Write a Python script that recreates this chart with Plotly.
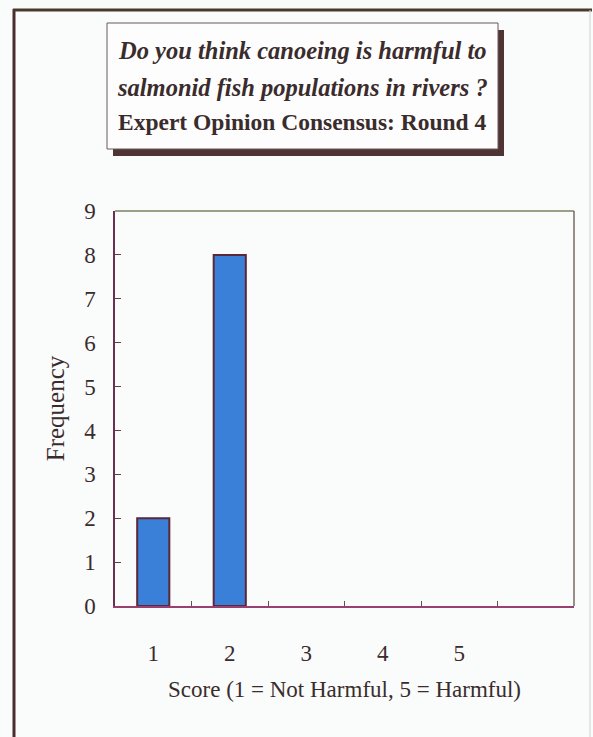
import plotly.graph_objects as go

scores = [1, 2, 3, 4, 5, 6]
frequency = [2, 8, 0, 0, 0, 0]
tick_vals = [1, 2, 3, 4, 5]
tick_text = ["1", "2", "3", "4", "5"]
boundary_ticks = [1.5, 2.5, 3.5, 4.5, 5.5]
y_ticks = [0, 1, 2, 3, 4, 5, 6, 7, 8, 9]
title_lines = [
    "<b><i>Do you think canoeing is harmful to</i></b>",
    "<b><i>salmonid fish populations in rivers ?</i></b>",
    "<b>Expert Opinion Consensus: Round 4</b>",
]

W, H = 593, 737
L, R, T, B = 115, 19, 211, 131
pw, ph = W - L - R, H - T - B


def px(x):
    return (x - L) / pw


def py(y):
    return (H - B - y) / ph


FONT = "Liberation Serif"
TXT = "#3a2c2c"

fig = go.Figure()
fig.add_trace(go.Bar(
    x=scores, y=frequency, width=0.42,
    marker=dict(color="#3a80d8",
                line=dict(color="#5a2838", width=[2 if v > 0 else 0 for v in frequency])),
))

shapes = []
# outer frame
shapes.append(dict(type="line", xref="paper", yref="paper", x0=px(14), x1=px(14), y0=py(9), y1=py(745),
                   line=dict(color="#4a2e2e", width=3)))
shapes.append(dict(type="line", xref="paper", yref="paper", x0=px(13), x1=px(592), y0=py(10), y1=py(10),
                   line=dict(color="#4a3a2e", width=3)))
shapes.append(dict(type="line", xref="paper", yref="paper", x0=px(590), x1=px(590), y0=py(10), y1=py(745),
                   line=dict(color="#d0d0d0", width=1)))
# title box shadow and box
shapes.append(dict(type="rect", xref="paper", yref="paper", x0=px(113), x1=px(504), y0=py(30), y1=py(156),
                   fillcolor="#4e3434", line=dict(width=0)))
shapes.append(dict(type="rect", xref="paper", yref="paper", x0=px(107), x1=px(498), y0=py(23), y1=py(149),
                   fillcolor="#fdfdfd", line=dict(color="#6a5a5a", width=1)))
# plot frame top / right
shapes.append(dict(type="line", xref="paper", yref="paper", x0=0, x1=1, y0=1, y1=1,
                   line=dict(color="#7d8060", width=1.5)))
shapes.append(dict(type="line", xref="paper", yref="paper", x0=1, x1=1, y0=0, y1=1,
                   line=dict(color="#7a6a66", width=1.5)))

annotations = []
for txt, yc, fs in zip(title_lines, [50, 87, 122], [24.5, 24.5, 23.5]):
    annotations.append(dict(text=txt, xref="paper", yref="paper", x=px(302.5), y=py(yc),
                            showarrow=False, xanchor="center", yanchor="middle",
                            font=dict(family=FONT, size=fs, color=TXT)))

fig.update_layout(
    width=W, height=H,
    margin=dict(l=L, r=R, t=T, b=B, pad=0),
    paper_bgcolor="#fafbfb", plot_bgcolor="#fafbfb",
    showlegend=False,
    shapes=shapes, annotations=annotations,
    font=dict(family=FONT, color=TXT, size=22),
    xaxis=dict(
        range=[0.5, 6.5], tickmode="array", tickvals=tick_vals, ticktext=tick_text,
        ticks="", showgrid=False, zeroline=False,
        showline=True, linecolor="#9a4070", linewidth=1.5,
        ticklabelstandoff=26,
        tickfont=dict(family=FONT, size=23, color=TXT),
        minor=dict(tickmode="array", tickvals=boundary_ticks, ticks="inside",
                   ticklen=5, tickcolor="#6a4a5a", tickwidth=1, showgrid=False),
        title=dict(text="Score (1 = Not Harmful, 5 = Harmful)", standoff=16,
                   font=dict(family=FONT, size=23, color=TXT)),
    ),
    yaxis=dict(
        range=[0, 9], tickmode="array", tickvals=y_ticks,
        ticks="inside", ticklen=6, tickcolor="#6a3a4a", tickwidth=1,
        showgrid=False, zeroline=False,
        showline=True, linecolor="#6a3050", linewidth=1.5,
        ticklabelstandoff=13,
        tickfont=dict(family=FONT, size=23, color=TXT),
        title=dict(text="Frequency", standoff=12,
                   font=dict(family=FONT, size=25, color=TXT)),
    ),
)

fig.write_html("out.html")
